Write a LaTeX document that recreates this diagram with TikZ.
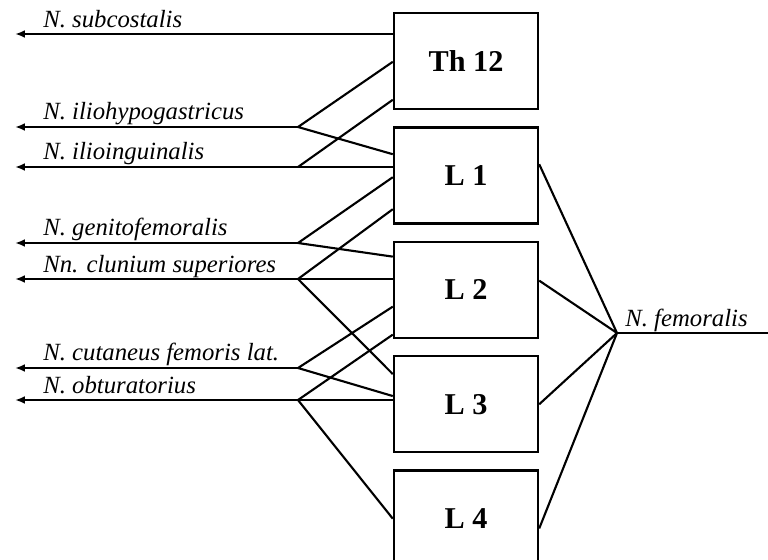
\documentclass[tikz,border=0pt]{standalone}
\usepackage{fontspec}
\setmainfont{Liberation Serif}
\usetikzlibrary{
    arrows.meta,
    positioning,
    calc
}

\begin{document}
\begin{tikzpicture}[
    x=0.025cm,
    y=-0.025cm,
    every node/.style={
        font=\fontsize{17.6pt}{20pt}\selectfont\itshape
    },
    segment/.style={
        draw,
        line width=1.7pt,
        minimum width=3.6cm,
        minimum height=2.4cm,
        inner sep=0pt,
        font=\fontsize{21.5pt}{24pt}\selectfont\bfseries
    },
    nervelabel/.style={
        anchor=base west,
        inner sep=0pt
    },
    nerve/.style={
        line width=1.5pt
    },
    outnerve/.style={
        nerve,
        -{Latex[length=7pt,width=5.5pt]}
    }
]

    \useasboundingbox (0,0) rectangle (768,559);

    % -------------------------------------------------------
    % Segments of the spinal cord
    % -------------------------------------------------------
    \node[segment] (th12) at (466,61) {Th 12};
    \node[segment, below=0.4cm of th12] (l1) {L 1};
    \node[segment, below=0.4cm of l1] (l2) {L 2};
    \node[segment, below=0.4cm of l2] (l3) {L 3};
    \node[segment, below=0.4cm of l3] (l4) {L 4};

    % -------------------------------------------------------
    % N. subcostalis
    % -------------------------------------------------------
    \coordinate (subend) at (15,34);
    \draw[outnerve] (th12.west |- subend) -- (subend);
    \node[nervelabel] (sublabel) at (43,27) {N. subcostalis};

    % -------------------------------------------------------
    % N. iliohypogastricus
    % -------------------------------------------------------
    \coordinate (ihgfork) at (298,127);
    \coordinate (ihgend) at (15,127);
    \draw[outnerve] (ihgfork) -- (ihgend);
    \draw[nerve]
        ($(th12.north west)+(0,50)$)
        -- (ihgfork)
        -- ($(l1.north west)+(0,28)$);
    \node[nervelabel] (ihglabel) at (43,119) {N. iliohypogastricus};

    % -------------------------------------------------------
    % N. ilioinguinalis
    % -------------------------------------------------------
    \coordinate (iigfork) at (298,167);
    \coordinate (iigend) at (15,167);
    \draw[outnerve] (l1.west |- iigfork) -- (iigend);
    \draw[nerve] (iigfork) -- ($(th12.north west)+(0,88)$);
    \node[nervelabel] (iiglabel) at (43,159) {N. ilioinguinalis};

    % -------------------------------------------------------
    % N. genitofemoralis
    % -------------------------------------------------------
    \coordinate (gffork) at (298,243);
    \coordinate (gfend) at (15,243);
    \draw[outnerve] (gffork) -- (gfend);
    \draw[nerve]
        ($(l1.north west)+(0,51)$)
        -- (gffork)
        -- ($(l2.north west)+(0,16)$);
    \node[nervelabel] (gflabel) at (43,235) {N. genitofemoralis};

    % -------------------------------------------------------
    % Nn. clunium superiores
    % -------------------------------------------------------
    \coordinate (csfork) at (298,279);
    \coordinate (csend) at (15,279);
    \draw[outnerve] (l2.west |- csfork) -- (csend);
    \draw[nerve]
        ($(l1.north west)+(0,83)$)
        -- (csfork)
        -- ($(l3.north west)+(0,19)$);
    \node[nervelabel] (cslabel) at (43,272) {Nn. clunium superiores};

    % -------------------------------------------------------
    % N. cutaneus femoris lateralis
    % -------------------------------------------------------
    \coordinate (cflfork) at (298,368);
    \coordinate (cflend) at (15,368);
    \draw[outnerve] (cflfork) -- (cflend);
    \draw[nerve]
        ($(l2.north west)+(0,66)$)
        -- (cflfork)
        -- ($(l3.north west)+(0,41)$);
    \node[nervelabel] (cfllabel) at (43,360) {N. cutaneus femoris lat.};

    % -------------------------------------------------------
    % N. obturatorius
    % -------------------------------------------------------
    \coordinate (obtfork) at (298,400);
    \coordinate (obtend) at (15,400);
    \draw[outnerve] (l3.west |- obtfork) -- (obtend);
    \draw[nerve]
        ($(l2.north west)+(0,94)$)
        -- (obtfork)
        -- (l4.west);
    \node[nervelabel] (obtlabel) at (43,393) {N. obturatorius};

    % -------------------------------------------------------
    % N. femoralis
    % -------------------------------------------------------
    \coordinate (femfork) at (617,333);
    \coordinate (femend) at (768,333);
    \draw[nerve] (femfork) -- (femend);
    \draw[nerve] ($(l1.north east)+(0,38)$) -- (femfork);
    \draw[nerve] ($(l2.north east)+(0,40)$) -- (femfork);
    \draw[nerve] (l3.east) -- (femfork);
    \draw[nerve] ($(l4.north east)+(0,59)$) -- (femfork);
    \node[nervelabel] (femlabel) at (625,326) {N. femoralis};

\end{tikzpicture}
\end{document}
